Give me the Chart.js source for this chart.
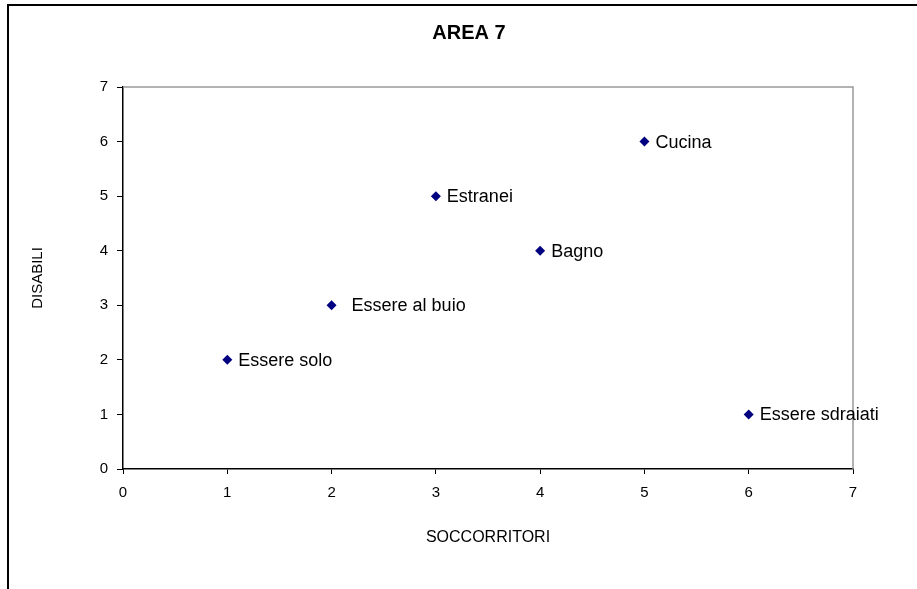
<!DOCTYPE html>
<html>
<head>
<meta charset="utf-8">
<script src="https://cdn.jsdelivr.net/npm/chart.js@4.4.1/dist/chart.umd.min.js"></script>
<style>
    html, body { margin: 0; padding: 0; background: #fff; }
    #wrap { width: 917px; height: 589px; }
</style>
</head>
<body>
<div id="wrap"><canvas id="chart"></canvas></div>
<script>
const title = "AREA 7";
const xTitle = "SOCCORRITORI";
const yTitle = "DISABILI";

const names = ["Essere solo", "Essere al buio", "Estranei", "Bagno", "Cucina", "Essere sdraiati"];
const soccorritori = [1, 2, 3, 4, 5, 6];
const disabili = [2, 3, 5, 4, 6, 1];

const points = soccorritori.map((x, i) => ({ x: x, y: disabili[i] }));

// frame, title, grey top/right plot border and point labels
const decor = {
    id: "decor",
    afterDraw(chart) {
        const ctx = chart.ctx;
        const area = chart.chartArea;
        ctx.save();

        ctx.strokeStyle = "#000";
        ctx.lineWidth = 2;
        ctx.beginPath();
        ctx.moveTo(8, 589);
        ctx.lineTo(8, 5);
        ctx.lineTo(917, 5);
        ctx.stroke();

        ctx.strokeStyle = "#999";
        ctx.lineWidth = 1.5;
        ctx.beginPath();
        ctx.moveTo(area.left, area.top);
        ctx.lineTo(area.right, area.top);
        ctx.lineTo(area.right, area.bottom);
        ctx.stroke();

        ctx.fillStyle = "#000";
        ctx.font = "bold 20px 'Liberation Sans', Arial, sans-serif";
        ctx.textAlign = "center";
        ctx.textBaseline = "middle";
        ctx.fillText(title, 469, 33);

        const meta = chart.getDatasetMeta(0);
        ctx.font = "18px 'Liberation Sans', Arial, sans-serif";
        ctx.textAlign = "left";
        meta.data.forEach((pt, i) => {
            const gap = names[i] === "Essere al buio" ? 20 : 11;
            ctx.fillText(names[i], pt.x + gap, pt.y + 1);
        });

        ctx.restore();
    }
};

const fam = "'Liberation Sans', Arial, sans-serif";

new Chart(document.getElementById("chart"), {
    type: "scatter",
    data: {
        datasets: [{
            data: points,
            pointStyle: "rectRot",
            pointRadius: 5,
            pointHoverRadius: 5,
            backgroundColor: "#000080",
            borderColor: "#000080",
            borderWidth: 0
        }]
    },
    options: {
        responsive: true,
        maintainAspectRatio: false,
        animation: false,
        events: [],
        layout: {
            padding: { left: 25, top: 87, right: 64, bottom: 40 }
        },
        plugins: {
            legend: { display: false },
            title: { display: false },
            tooltip: { enabled: false }
        },
        scales: {
            x: {
                type: "linear",
                min: 0,
                max: 7,
                ticks: { stepSize: 1, color: "#000", font: { family: fam, size: 15 }, padding: 10 },
                grid: { drawOnChartArea: false, drawTicks: true, tickLength: 5, color: "#000" },
                border: { color: "#000", width: 1.5 },
                title: {
                    display: true,
                    text: xTitle,
                    color: "#000",
                    font: { family: fam, size: 16 },
                    padding: { top: 0, bottom: 2 }
                },
                afterFit(scale) { scale.height = 80; }
            },
            y: {
                type: "linear",
                min: 0,
                max: 7,
                ticks: { stepSize: 1, color: "#000", font: { family: fam, size: 15 }, padding: 9 },
                grid: { drawOnChartArea: false, drawTicks: true, tickLength: 6, color: "#000" },
                border: { color: "#000", width: 1.5 },
                title: {
                    display: true,
                    text: yTitle,
                    color: "#000",
                    font: { family: fam, size: 15 },
                    padding: { top: 4, bottom: 0 }
                },
                afterFit(scale) { scale.width = 98; }
            }
        }
    },
    plugins: [decor]
});
</script>
</body>
</html>
